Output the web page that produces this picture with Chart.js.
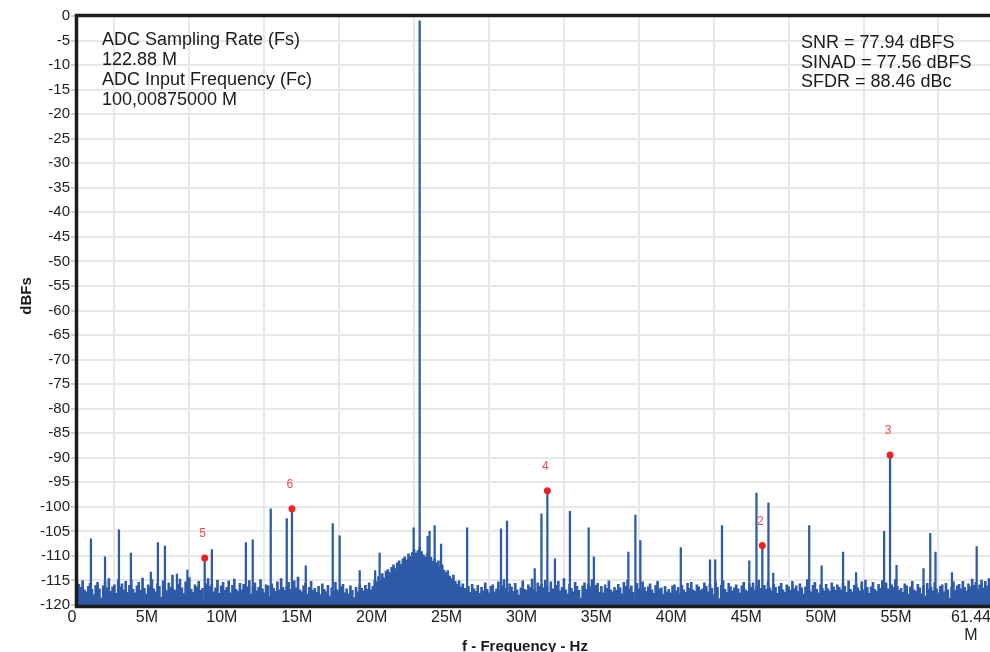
<!DOCTYPE html>
<html lang="en">
<head>
<meta charset="UTF-8" />
<title>ADC FFT Spectrum</title>
<script src="https://cdn.jsdelivr.net/npm/chart.js"></script>
<style>
  html, body { margin: 0; padding: 0; background: #fff; overflow: hidden; }
</style>
</head>
<body>
<canvas id="fft" width="1000" height="652"></canvas>
<script>
// spectrum values in dBFS, frequencies in MHz
const binStep = 0.125;
const noiseFloor = [
  -115.2, -115.8, -116.4, -115.0, -116.9, -117.3, -116.2, -115.6,
  -116.8, -117.9, -116.0, -115.4, -116.7, -118.6, -116.1, -115.3,
  -116.5, -114.6, -117.2, -116.3, -115.9, -117.6, -114.8, -116.4,
  -115.7, -116.9, -115.2, -117.4, -116.0, -114.9, -116.8, -117.5,
  -116.1, -115.4, -117.0, -114.5, -116.6, -117.8, -115.9, -116.3,
  -114.8, -116.7, -117.3, -115.6, -116.2, -118.4, -115.1, -116.8,
  -117.1, -115.5, -116.4, -113.9, -116.9, -117.2, -115.8, -114.7,
  -116.5, -117.6, -115.3, -116.1, -114.4, -116.8, -117.4, -115.9,
  -116.3, -115.2, -117.0, -116.6, -118.9, -115.7, -114.6, -116.2,
  -115.8, -117.3, -116.5, -114.9, -117.6, -116.1, -115.4, -117.0,
  -116.4, -115.1, -117.5, -116.0, -114.7, -116.8, -117.2, -115.6,
  -116.9, -115.8, -117.4, -116.3, -115.0, -117.8, -116.2, -115.5,
  -117.1, -116.4, -114.8, -116.7, -117.5, -115.9, -116.1, -118.3,
  -115.7, -116.6, -117.2, -115.3, -116.9, -114.6, -116.4, -117.0,
  -116.2, -115.4, -116.8, -117.6, -115.1, -116.5, -114.3, -116.9,
  -117.3, -116.1, -115.6, -117.8, -116.4, -115.2, -117.0, -116.6,
  -117.4, -116.2, -117.9, -115.7, -116.8, -117.3, -116.0, -118.2,
  -116.5, -117.2, -115.4, -116.9, -117.6, -116.3, -115.8, -117.5,
  -116.7, -117.8, -116.1, -117.0, -118.5, -116.4, -117.3, -115.9,
  -116.6, -117.1, -116.0, -116.8, -115.5, -116.9, -116.2, -114.9,
  -115.3, -114.2, -115.0, -113.6, -114.5, -113.1, -112.8, -113.4,
  -112.3, -111.8, -112.6, -111.4, -111.0, -111.7, -110.6, -110.2,
  -110.8, -109.6, -110.1, -109.3, -108.7, -109.4, -108.9, -108.2,
  -109.1, -109.8, -110.2, -109.5, -110.7, -110.3, -111.1, -110.6,
  -111.4, -111.0, -112.2, -111.8, -112.9, -113.4, -113.0, -114.1,
  -114.6, -113.9, -115.2, -115.8, -115.1, -116.3, -115.7, -116.6,
  -116.9, -116.2, -117.4, -115.8, -116.7, -117.2, -116.0, -117.6,
  -116.4, -117.1, -115.5, -116.8, -117.5, -116.2, -115.9, -117.3,
  -116.7, -115.3, -117.0, -116.1, -114.8, -116.6, -117.4, -115.7,
  -116.3, -117.2, -115.6, -116.9, -118.0, -116.5, -115.1, -116.8,
  -117.0, -115.9, -116.4, -114.7, -116.8, -117.3, -115.5, -116.2,
  -115.8, -116.5, -114.9, -116.1, -117.4, -115.3, -116.7, -117.6,
  -116.0, -115.2, -117.1, -116.4, -114.6, -116.9, -117.7, -115.8,
  -116.6, -117.3, -115.4, -116.2, -117.0, -118.6, -116.1, -115.5,
  -116.8, -115.7, -116.3, -114.8, -117.2, -116.0, -115.6, -117.4,
  -116.2, -117.5, -115.9, -116.6, -115.1, -116.9, -117.3, -116.4,
  -117.0, -115.8, -116.5, -117.7, -115.4, -116.2, -114.9, -116.8,
  -116.1, -117.4, -118.8, -115.6, -116.7, -117.1, -115.3, -116.4,
  -117.2, -116.3, -115.7, -116.9, -117.6, -116.0, -115.2, -116.7,
  -116.5, -117.8, -116.2, -117.3, -116.8, -117.5, -116.1, -115.9,
  -117.1, -116.4, -117.7, -116.0, -116.9, -117.4, -115.6, -116.6,
  -115.4, -116.9, -117.2, -115.9, -116.3, -117.0, -116.7, -115.5,
  -116.2, -117.3, -115.8, -116.6, -117.9, -115.3, -116.4, -118.7,
  -116.0, -115.1, -116.8, -117.4, -115.6, -116.3, -117.1, -116.5,
  -115.9, -116.7, -117.5, -116.1, -115.4, -116.9, -117.2, -115.7,
  -116.4, -115.5, -117.0, -116.2, -114.9, -116.6, -117.3, -116.0,
  -116.8, -115.3, -116.5, -117.1, -115.8, -116.4, -117.6, -116.2,
  -115.6, -116.9, -117.4, -115.9, -116.3, -117.0, -115.2, -116.7,
  -116.1, -117.2, -115.7, -116.5, -117.8, -116.3, -114.8, -116.9,
  -117.3, -116.0, -115.4, -116.8, -117.5, -115.9, -116.6, -117.1,
  -115.8, -116.7, -117.2, -115.5, -116.3, -117.0, -115.9, -116.4,
  -116.9, -115.6, -116.2, -117.4, -115.1, -116.8, -117.3, -116.0,
  -115.7, -116.5, -117.1, -115.3, -116.9, -114.9, -116.4, -117.6,
  -116.3, -115.4, -116.8, -117.2, -115.8, -116.6, -115.0, -116.1,
  -115.5, -116.7, -117.3, -115.9, -116.4, -114.8, -116.2, -117.0,
  -116.6, -117.4, -115.7, -116.1, -117.8, -116.3, -115.2, -116.9,
  -117.2, -115.8, -116.5, -117.7, -116.0, -118.2, -115.6, -116.8,
  -116.3, -117.1, -115.4, -116.7, -117.5, -116.2, -115.9, -117.3,
  -115.6, -116.9, -118.6, -116.4, -115.3, -117.0, -116.1, -115.8,
  -116.7, -115.2, -116.4, -117.1, -115.7, -116.3, -114.7, -116.0,
  -115.4, -116.8, -115.9, -114.9, -116.5, -115.2, -116.1, -114.6,
  -115.8, -116.3, -115.0, -115.5
];

// non-harmonic spurs above the floor
const spurFreqs = [0.93, 1.87, 2.8, 3.6, 4.93, 5.4, 5.87, 6.67, 7.37, 9.0,
  11.27, 11.73, 12.93, 14.0, 15.27, 17.07, 17.53, 18.87, 19.9, 20.2,
  22.47, 23.4, 23.53, 23.87, 24.3, 26.04, 28.3, 28.7, 30.55, 31.0,
  31.9, 32.9, 34.15, 34.5, 36.8, 37.27, 37.6, 40.3, 42.25, 42.6,
  43.05, 44.87, 45.35, 46.15, 46.47, 48.87, 49.7, 51.13, 52.0, 53.87,
  54.7, 56.5, 56.95, 57.3, 58.4, 60.05];
const spurLevels = [-106.5, -110.2, -104.7, -109.4, -113.3, -107.3, -108.0, -113.7, -112.9, -108.7,
  -107.3, -106.7, -100.4, -102.4, -112.0, -103.4, -105.9, -113.0, -113.0, -109.4,
  -104.3, -106.0, -105.0, -103.8, -107.6, -104.3, -104.5, -102.9, -112.6, -101.4,
  -110.6, -100.9, -104.3, -110.2, -109.2, -101.7, -106.9, -108.3, -110.8, -110.8,
  -103.8, -111.0, -97.2, -99.2, -113.5, -103.8, -112.0, -109.2, -113.4, -105.0,
  -111.9, -112.6, -105.4, -109.2, -113.4, -108.1];

// fundamental (Fc aliased into first Nyquist zone) and its harmonics
const toneFreq = 22.87125;
const toneLevel = -1.0;
const harmonicNames = ['2', '3', '4', '5', '6'];
const harmonicFreqs = [45.7425, 54.26625, 31.395, 8.52375, 14.3475];
const harmonicLevels = [-107.9, -89.46, -96.7, -110.4, -100.4];

const xTickValues = [0, 5, 10, 15, 20, 25, 30, 35, 40, 45, 50, 55, 60];
const xTickLabels = ['0', '5M', '10M', '15M', '20M', '25M', '30M', '35M', '40M', '45M', '50M', '55M', ['61.44', 'M']];
const yTickValues = [];
const yTickLabels = [];
for (let v = -120; v <= 0; v += 5) { yTickValues.push(v); yTickLabels.push(String(v)); }

const infoLeft = ['ADC Sampling Rate (Fs)', '122.88 M', 'ADC Input Frequency (Fc)', '100,00875000 M'];
const infoRight = ['SNR = 77.94 dBFS', 'SINAD = 77.56 dBFS', 'SFDR = 88.46 dBc'];

const FONT = "'Liberation Sans', Arial, sans-serif";
const BLUE = '#2e5aa7';
const FLOOR = -120;

const asBars = (xs, ys) => xs.map((f, i) => ({ x: f, y: [FLOOR, ys[i]] }));

// frame, text blocks, harmonic numbers and axis titles
const overlay = {
  id: 'overlay',
  afterDraw(chart) {
    const { ctx, chartArea: a, scales: { x, y } } = chart;
    ctx.save();

    ctx.strokeStyle = '#1c1c1c';
    ctx.lineWidth = 3.5;
    ctx.lineJoin = 'miter';
    ctx.beginPath();
    ctx.moveTo(a.right + 5, a.top - 0.5);
    ctx.lineTo(a.left - 0.5, a.top - 0.5);
    ctx.lineTo(a.left - 0.5, a.bottom + 1.5);
    ctx.lineTo(a.right + 5, a.bottom + 1.5);
    ctx.stroke();

    ctx.fillStyle = '#f04848';
    ctx.font = '12px ' + FONT;
    ctx.textAlign = 'center';
    ctx.textBaseline = 'middle';
    harmonicNames.forEach((n, i) => {
      const px = x.getPixelForValue(harmonicFreqs[i]);
      const py = y.getPixelForValue(harmonicLevels[i]);
      ctx.fillText(n, px - 2, py - 24);
    });

    ctx.fillStyle = '#1a1a1a';
    ctx.font = '18px ' + FONT;
    ctx.textAlign = 'left';
    ctx.textBaseline = 'alphabetic';
    infoLeft.forEach((t, i) => ctx.fillText(t, 102, 44.5 + i * 20.2));
    infoRight.forEach((t, i) => ctx.fillText(t, 801, 48.3 + i * 19.3));

    ctx.font = 'bold 15px ' + FONT;
    ctx.textAlign = 'center';
    ctx.fillText('f - Frequency - Hz', 525, 651);
    ctx.translate(31, 296);
    ctx.rotate(-Math.PI / 2);
    ctx.fillText('dBFs', 0, 0);
    ctx.restore();
  }
};

new Chart(document.getElementById('fft'), {
  type: 'bar',
  data: {
    datasets: [
      {
        type: 'scatter',
        data: harmonicFreqs.map((f, i) => ({ x: f, y: harmonicLevels[i] })),
        pointRadius: 3.5,
        pointBackgroundColor: '#ee2222',
        pointBorderWidth: 0,
        order: 0
      },
      {
        data: asBars([toneFreq, ...harmonicFreqs], [toneLevel, ...harmonicLevels]),
        backgroundColor: BLUE,
        barThickness: 1.6,
        order: 1
      },
      {
        data: asBars(spurFreqs, spurLevels),
        backgroundColor: BLUE,
        barThickness: 1.6,
        order: 2
      },
      {
        data: asBars(noiseFloor.map((_, i) => i * binStep), noiseFloor),
        backgroundColor: BLUE,
        barThickness: 2,
        order: 3
      }
    ]
  },
  options: {
    responsive: false,
    animation: false,
    events: [],
    datasets: { bar: { grouped: false, borderWidth: 0 } },
    layout: { autoPadding: false, padding: { top: 16, right: 1.4, bottom: 0, left: 0 } },
    plugins: { legend: { display: false }, tooltip: { enabled: false } },
    scales: {
      x: {
        type: 'linear',
        min: 0,
        max: 61.44,
        offset: false,
        afterBuildTicks: s => { s.ticks = xTickValues.map(v => ({ value: v })); },
        afterFit: s => { s.height = 47; },
        grid: { color: '#e8e8e8', lineWidth: 2, drawTicks: false },
        border: { display: false },
        ticks: {
          autoSkip: false,
          maxRotation: 0,
          padding: 4,
          labelOffset: -5,
          color: '#222',
          font: { family: FONT, size: 16, lineHeight: 1.1 },
          callback: (v, i) => xTickLabels[i]
        }
      },
      y: {
        min: -120,
        max: 0,
        afterBuildTicks: s => { s.ticks = yTickValues.map(v => ({ value: v })); },
        afterFit: s => { s.width = 77; },
        grid: { color: '#e8e8e8', lineWidth: 2, tickLength: 6, tickColor: '#cfcfcf' },
        border: { display: false },
        ticks: {
          autoSkip: false,
          padding: 1,
          color: '#222',
          font: { family: FONT, size: 15 },
          callback: (v, i) => yTickLabels[i]
        }
      }
    }
  },
  plugins: [overlay]
});
</script>
</body>
</html>
